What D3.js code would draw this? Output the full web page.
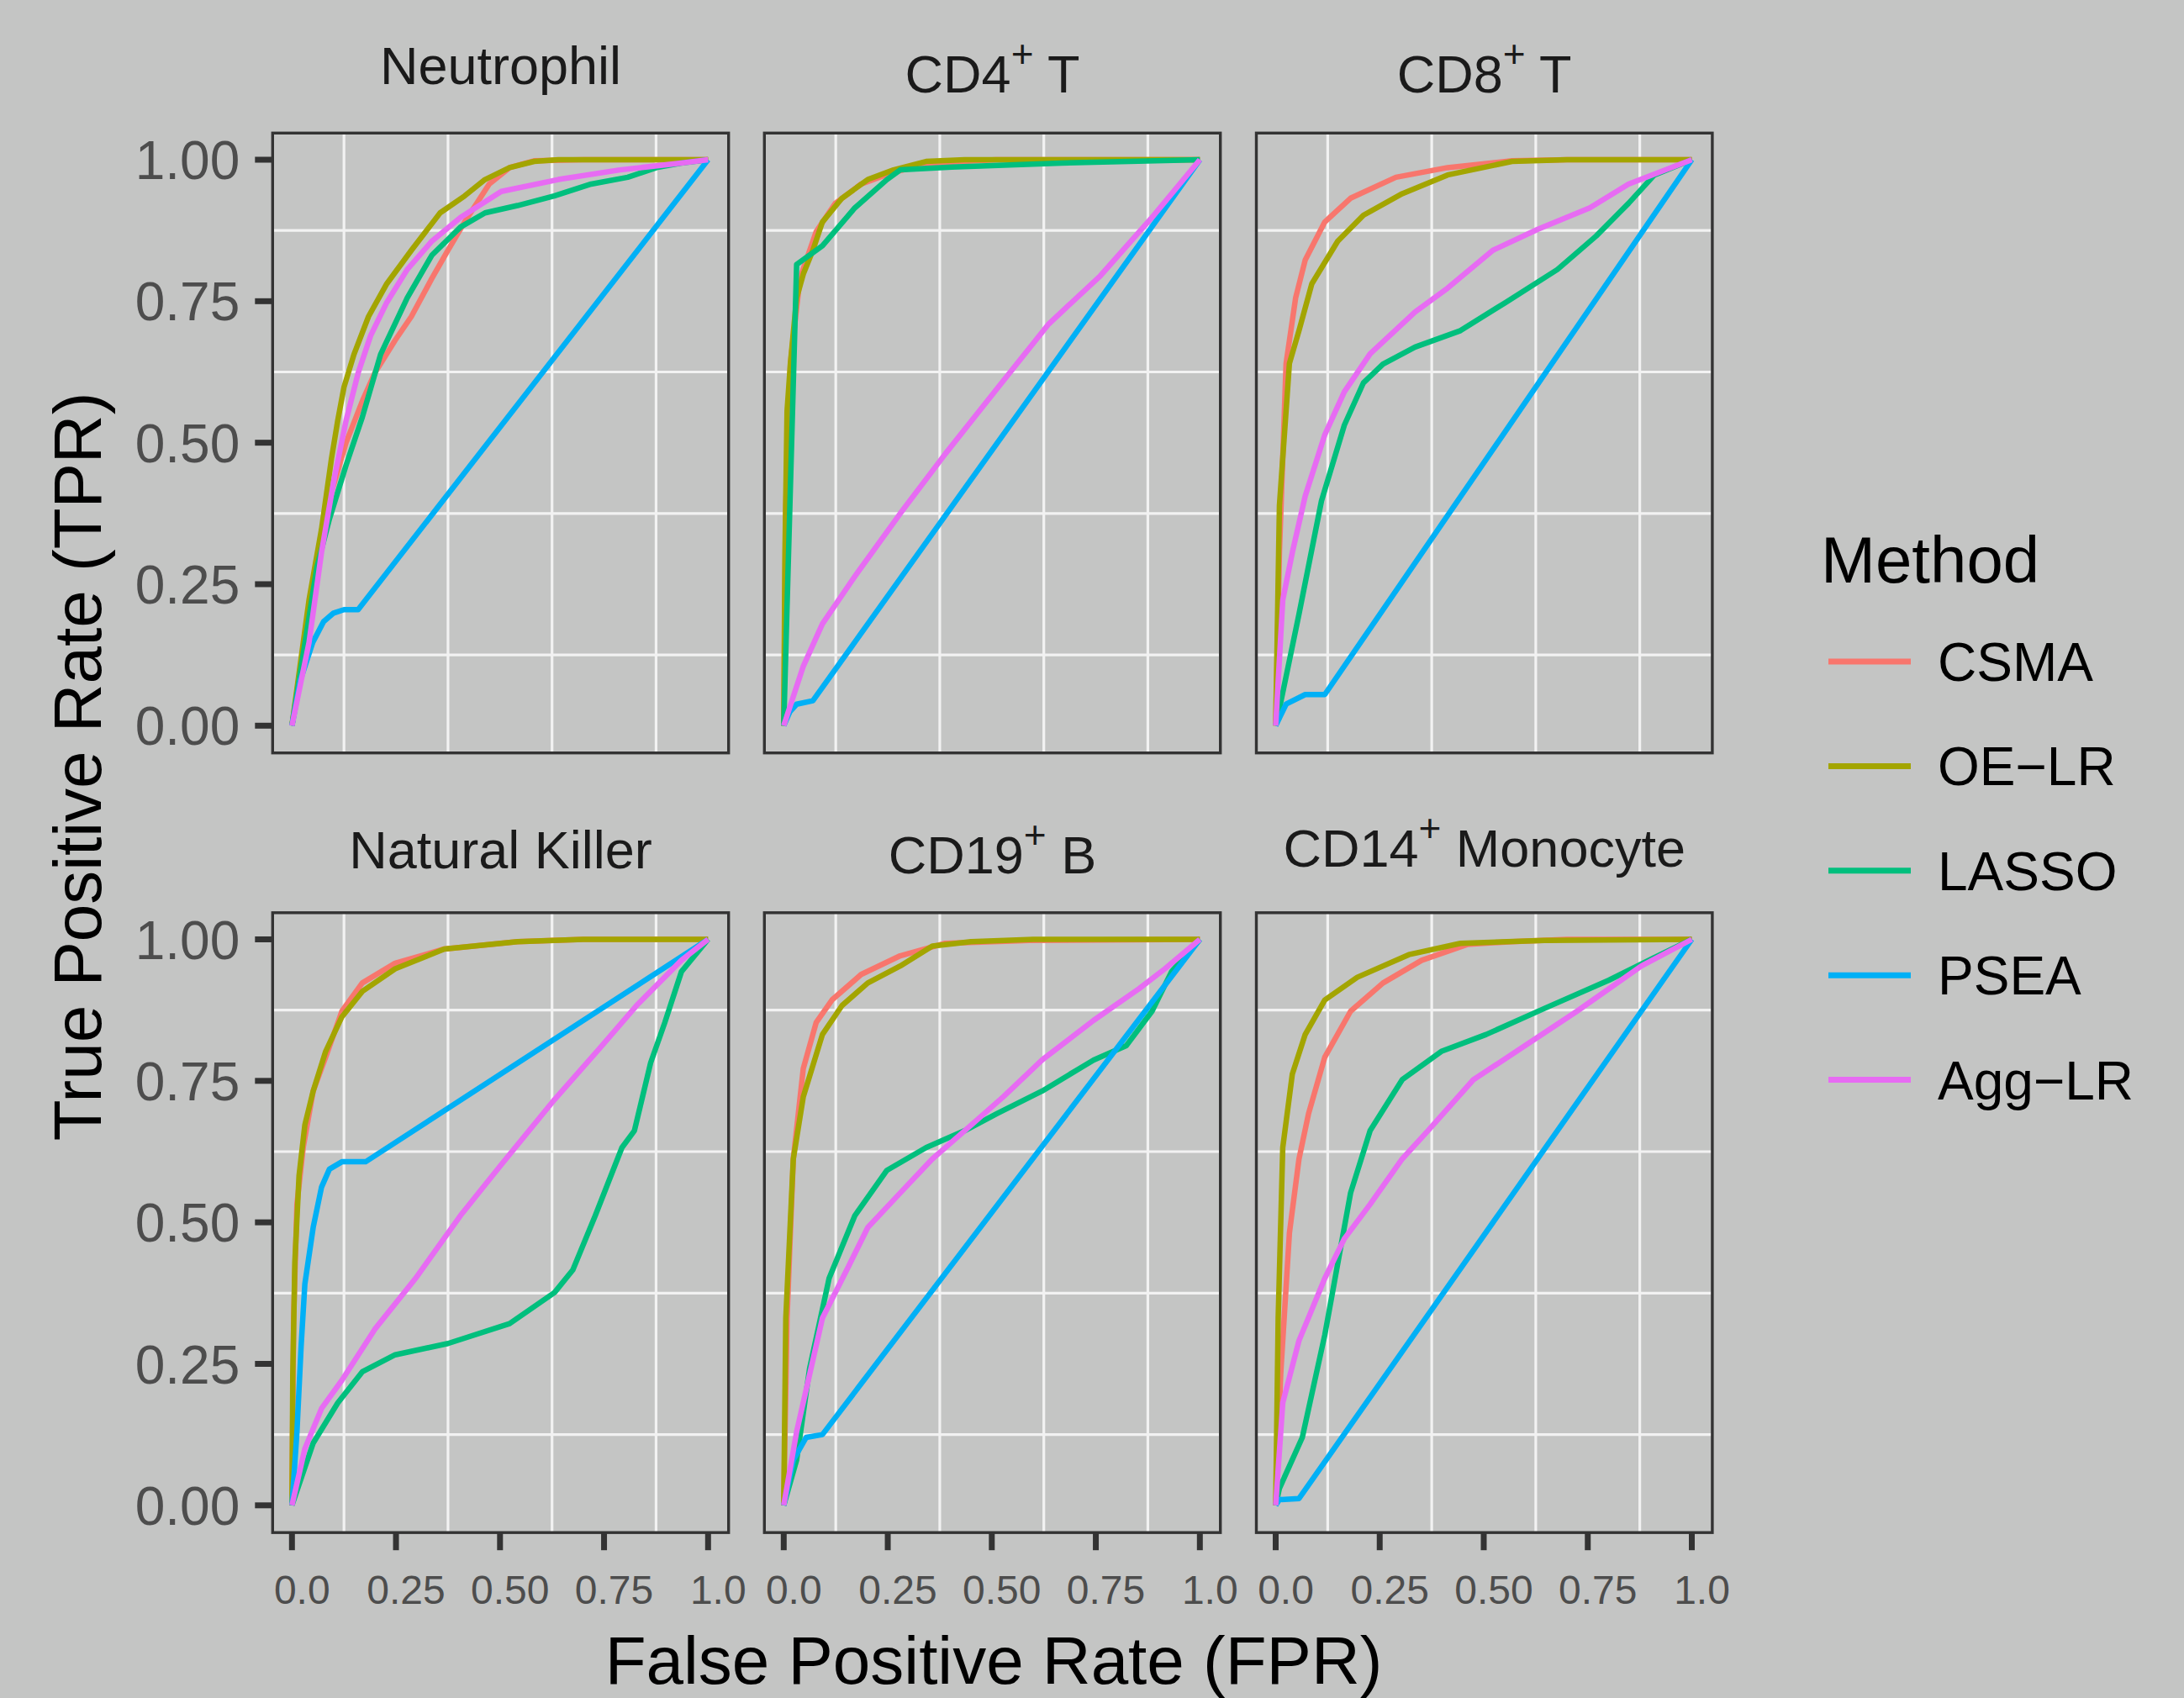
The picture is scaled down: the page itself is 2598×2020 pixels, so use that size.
<!DOCTYPE html>
<html><head><meta charset="utf-8">
<script src="https://cdn.jsdelivr.net/npm/d3@7"></script>
<style>html,body{margin:0;padding:0;background:#c4c5c4;} svg{display:block;}</style>
</head><body>
<svg id="chart" width="2598" height="2020"></svg>
<script>
// ---------------- data ----------------
const methods = ["CSMA", "OE\u2212LR", "LASSO", "PSEA", "Agg\u2212LR"];
const methodKeys = ["CSMA", "OELR", "LASSO", "PSEA", "AggLR"];
const methodColors = ["#F8766D", "#A3A500", "#00BF7D", "#00B0F6", "#E76BF3"];

const panelTitles = [
  {main: "Neutrophil", sup: null, rest: ""},
  {main: "CD4", sup: "+", rest: " T"},
  {main: "CD8", sup: "+", rest: " T"},
  {main: "Natural Killer", sup: null, rest: ""},
  {main: "CD19", sup: "+", rest: " B"},
  {main: "CD14", sup: "+", rest: " Monocyte"}
];

const yTicks = [0, 0.25, 0.5, 0.75, 1];
const yTickLabels = ["0.00", "0.25", "0.50", "0.75", "1.00"];
const xTicks = [0, 0.25, 0.5, 0.75, 1];
const xTickLabels = ["0.0", "0.25", "0.50", "0.75", "1.0"];
const gridBreaks = [0.125, 0.375, 0.625, 0.875];

const xTitle = "False Positive Rate (FPR)";
const yTitle = "True Positive Rate (TPR)";
const legendTitle = "Method";

// ROC points [FPR, TPR]
const neutrophil = {
  CSMA: [[0,0],[0.03,0.15],[0.06,0.29],[0.09,0.40],[0.13,0.50],[0.17,0.575],[0.199,0.623],[0.248,0.681],[0.287,0.723],[0.336,0.79],[0.375,0.84],[0.415,0.89],[0.474,0.957],[0.523,0.986],[0.582,0.998],[0.7,1],[1,1]],
  OELR: [[0,0],[0.041,0.222],[0.071,0.347],[0.095,0.472],[0.11,0.539],[0.125,0.598],[0.149,0.656],[0.184,0.723],[0.228,0.781],[0.287,0.84],[0.356,0.906],[0.415,0.936],[0.464,0.965],[0.523,0.986],[0.582,0.997],[0.64,1],[1,1]],
  LASSO: [[0,0],[0.03,0.14],[0.06,0.28],[0.09,0.365],[0.13,0.46],[0.169,0.545],[0.213,0.656],[0.277,0.756],[0.336,0.831],[0.405,0.881],[0.464,0.906],[0.542,0.919],[0.63,0.936],[0.719,0.957],[0.807,0.969],[0.876,0.986],[0.935,0.994],[1,1]],
  PSEA: [[0,0],[0.02,0.08],[0.05,0.147],[0.076,0.184],[0.10,0.199],[0.125,0.205],[0.159,0.205],[1,1]],
  AggLR: [[0,0],[0.041,0.147],[0.071,0.306],[0.10,0.431],[0.13,0.539],[0.159,0.623],[0.189,0.689],[0.228,0.748],[0.277,0.806],[0.336,0.856],[0.405,0.898],[0.503,0.944],[0.64,0.965],[0.788,0.982],[0.935,0.994],[1,1]]
};
const cd4T = {
  CSMA: [[0,0],[0.005,0.389],[0.016,0.64],[0.039,0.79],[0.078,0.873],[0.124,0.923],[0.186,0.957],[0.264,0.978],[0.357,0.994],[0.51,1],[1,1]],
  OELR: [[0,0],[0.003,0.306],[0.008,0.556],[0.016,0.64],[0.031,0.756],[0.047,0.798],[0.07,0.84],[0.093,0.89],[0.14,0.932],[0.202,0.965],[0.264,0.982],[0.342,0.997],[0.435,1],[1,1]],
  LASSO: [[0,0],[0.031,0.815],[0.093,0.848],[0.171,0.915],[0.248,0.965],[0.28,0.982],[0.404,0.987],[0.668,0.994],[1,1]],
  PSEA: [[0,0],[0.015,0.025],[0.031,0.038],[0.07,0.044],[1,1]],
  AggLR: [[0,0],[0.047,0.105],[0.093,0.18],[0.171,0.264],[0.28,0.375],[0.388,0.48],[0.512,0.595],[0.637,0.71],[0.761,0.795],[0.885,0.898],[1,1]]
};
const cd8T = {
  CSMA: [[0,0],[0.009,0.306],[0.025,0.64],[0.048,0.756],[0.071,0.823],[0.118,0.89],[0.18,0.932],[0.289,0.969],[0.413,0.986],[0.568,0.998],[0.7,1],[1,1]],
  OELR: [[0,0],[0.009,0.389],[0.033,0.64],[0.056,0.698],[0.087,0.781],[0.149,0.856],[0.211,0.902],[0.304,0.94],[0.413,0.973],[0.568,0.997],[0.7,1],[1,1]],
  LASSO: [[0,0],[0.009,0.03],[0.056,0.197],[0.11,0.397],[0.165,0.531],[0.211,0.606],[0.258,0.639],[0.335,0.669],[0.444,0.698],[0.553,0.748],[0.677,0.806],[0.77,0.865],[0.848,0.923],[0.91,0.973],[1,1]],
  PSEA: [[0,0],[0.025,0.038],[0.071,0.055],[0.118,0.055],[1,1]],
  AggLR: [[0,0],[0.017,0.222],[0.04,0.306],[0.071,0.406],[0.118,0.514],[0.165,0.59],[0.227,0.657],[0.335,0.731],[0.413,0.773],[0.522,0.84],[0.63,0.877],[0.755,0.915],[0.848,0.957],[1,1]]
};
const naturalKiller = {
  CSMA: [[0,0],[0.004,0.331],[0.012,0.532],[0.027,0.632],[0.051,0.732],[0.081,0.792],[0.12,0.873],[0.169,0.923],[0.248,0.958],[0.366,0.983],[0.542,0.996],[0.7,1],[1,1]],
  OELR: [[0,0],[0.002,0.231],[0.007,0.431],[0.017,0.582],[0.031,0.672],[0.051,0.732],[0.081,0.802],[0.12,0.863],[0.169,0.908],[0.248,0.948],[0.366,0.983],[0.542,0.996],[0.7,1],[1,1]],
  LASSO: [[0,0],[0.051,0.11],[0.11,0.181],[0.169,0.236],[0.248,0.266],[0.375,0.286],[0.523,0.321],[0.631,0.376],[0.675,0.416],[0.729,0.512],[0.793,0.632],[0.823,0.662],[0.862,0.782],[0.896,0.853],[0.936,0.943],[1,1]],
  PSEA: [[0,0],[0.012,0.13],[0.022,0.281],[0.031,0.391],[0.051,0.491],[0.071,0.562],[0.09,0.594],[0.12,0.607],[0.177,0.607],[1,1]],
  AggLR: [[0,0],[0.031,0.1],[0.071,0.171],[0.12,0.221],[0.199,0.311],[0.297,0.401],[0.405,0.512],[0.503,0.602],[0.631,0.717],[0.739,0.807],[0.828,0.883],[0.936,0.963],[1,1]]
};
const cd19B = {
  CSMA: [[0,0],[0.008,0.331],[0.023,0.612],[0.047,0.772],[0.078,0.853],[0.116,0.893],[0.186,0.938],[0.28,0.971],[0.388,0.993],[0.59,0.998],[1,1]],
  OELR: [[0,0],[0.005,0.331],[0.023,0.612],[0.047,0.722],[0.093,0.832],[0.14,0.883],[0.202,0.923],[0.28,0.953],[0.357,0.988],[0.45,0.996],[0.6,1],[1,1]],
  LASSO: [[0,0],[0.031,0.08],[0.062,0.241],[0.109,0.401],[0.171,0.512],[0.248,0.592],[0.342,0.632],[0.435,0.662],[0.512,0.692],[0.621,0.732],[0.745,0.787],[0.823,0.812],[0.885,0.873],[0.932,0.943],[1,1]],
  PSEA: [[0,0],[0.023,0.08],[0.054,0.12],[0.093,0.125],[1,1]],
  AggLR: [[0,0],[0.031,0.13],[0.093,0.331],[0.155,0.421],[0.202,0.491],[0.28,0.552],[0.357,0.612],[0.435,0.662],[0.528,0.722],[0.621,0.787],[0.745,0.857],[0.854,0.913],[0.916,0.948],[1,1]]
};
const cd14Monocyte = {
  CSMA: [[0,0],[0.012,0.231],[0.033,0.481],[0.056,0.612],[0.079,0.692],[0.118,0.792],[0.18,0.873],[0.258,0.923],[0.351,0.963],[0.46,0.991],[0.568,0.996],[0.7,1],[1,1]],
  OELR: [[0,0],[0.006,0.331],[0.017,0.632],[0.04,0.762],[0.071,0.832],[0.118,0.893],[0.196,0.933],[0.32,0.973],[0.444,0.993],[0.646,0.998],[1,1]],
  LASSO: [[0,0],[0.009,0.03],[0.064,0.12],[0.118,0.301],[0.18,0.552],[0.227,0.662],[0.304,0.752],[0.398,0.802],[0.506,0.832],[0.646,0.878],[0.801,0.928],[0.91,0.968],[1,1]],
  PSEA: [[0,0],[0.009,0.01],[0.056,0.012],[1,1]],
  AggLR: [[0,0],[0.017,0.181],[0.056,0.291],[0.118,0.401],[0.165,0.471],[0.227,0.532],[0.304,0.612],[0.366,0.662],[0.475,0.752],[0.599,0.812],[0.724,0.873],[0.879,0.953],[1,1]]
};
const panelData = [neutrophil, cd4T, cd8T, naturalKiller, cd19B, cd14Monocyte];

// ---------------- layout ----------------
const FONT = "'Liberation Sans', Arial, Helvetica, sans-serif";
const colLeft = [324.3, 909.3, 1494.5];
const rowTop = [158.3, 1085.8];
const panelW = 542.4, panelH = 737.4;
const stripBaseline = [[100, 110, 110], [1033, 1039, 1031]];

const svg = d3.select("#chart");
svg.append("rect").attr("width", 2598).attr("height", 2020).attr("fill", "#c4c5c4");

panelData.forEach((pd, i) => {
  const row = Math.floor(i / 3), col = i % 3;
  const left = colLeft[col], top = rowTop[row];
  const x = d3.scaleLinear().domain([0, 1]).range([left + 23, left + 518]);
  const y = d3.scaleLinear().domain([0, 1]).range([top + 705, top + 31.7]);
  const g = svg.append("g");

  // minor grid (white)
  g.selectAll(".gx").data(gridBreaks).join("line")
    .attr("x1", d => x(d)).attr("x2", d => x(d))
    .attr("y1", top).attr("y2", top + panelH)
    .attr("stroke", "#f2f2f2").attr("stroke-width", 3.2);
  g.selectAll(".gy").data(gridBreaks).join("line")
    .attr("y1", d => y(d)).attr("y2", d => y(d))
    .attr("x1", left).attr("x2", left + panelW)
    .attr("stroke", "#f2f2f2").attr("stroke-width", 3.2);

  // curves
  const line = d3.line().x(d => x(d[0])).y(d => y(d[1]));
  methodKeys.forEach((k, m) => {
    g.append("path").datum(pd[k]).attr("d", line)
      .attr("fill", "none").attr("stroke", methodColors[m])
      .attr("stroke-width", 6.5).attr("stroke-linejoin", "round").attr("stroke-linecap", "butt");
  });

  // border
  g.append("rect").attr("x", left).attr("y", top).attr("width", panelW).attr("height", panelH)
    .attr("fill", "none").attr("stroke", "#333333").attr("stroke-width", 3.4);

  // strip title
  const t = panelTitles[i];
  const txt = g.append("text").attr("x", left + panelW / 2).attr("y", stripBaseline[row][col])
    .attr("text-anchor", "middle").attr("font-family", FONT).attr("font-size", 63).attr("fill", "#1a1a1a");
  txt.append("tspan").text(t.main);
  if (t.sup) {
    txt.append("tspan").text(t.sup).attr("font-size", 46).attr("dy", -30);
    txt.append("tspan").text(t.rest).attr("dy", 30);
  }

  // y axis on left column
  if (col === 0) {
    g.selectAll(".yt").data(yTicks).join("line")
      .attr("x1", left - 21).attr("x2", left).attr("y1", d => y(d)).attr("y2", d => y(d))
      .attr("stroke", "#333333").attr("stroke-width", 7);
    g.selectAll(".yl").data(yTicks).join("text")
      .attr("x", left - 39).attr("y", d => y(d)).attr("dy", "0.36em")
      .attr("text-anchor", "end").attr("font-family", FONT).attr("font-size", 64).attr("fill", "#4d4d4d")
      .text((d, j) => yTickLabels[j]);
  }
  // x axis on bottom row
  if (row === 1) {
    const b = top + panelH;
    g.selectAll(".xt").data(xTicks).join("line")
      .attr("x1", d => x(d)).attr("x2", d => x(d)).attr("y1", b).attr("y2", b + 21)
      .attr("stroke", "#333333").attr("stroke-width", 7);
    g.selectAll(".xl").data(xTicks).join("text")
      .attr("x", d => x(d) + 12).attr("y", 1908)
      .attr("text-anchor", "middle").attr("font-family", FONT).attr("font-size", 48).attr("fill", "#4d4d4d")
      .text((d, j) => xTickLabels[j]);
  }
});

// axis titles
svg.append("text").attr("x", 1182).attr("y", 2003).attr("text-anchor", "middle")
  .attr("font-family", FONT).attr("font-size", 80).attr("fill", "#000").text(xTitle);
svg.append("text").attr("transform", "translate(120,912) rotate(-90)").attr("text-anchor", "middle")
  .attr("font-family", FONT).attr("font-size", 80).attr("fill", "#000").text(yTitle);

// legend
svg.append("text").attr("x", 2166).attr("y", 693).attr("font-family", FONT).attr("font-size", 78)
  .attr("fill", "#000").text(legendTitle);
const lg = svg.append("g");
methods.forEach((m, i) => {
  const cy = 787 + i * 124.4;
  lg.append("line").attr("x1", 2175).attr("x2", 2273).attr("y1", cy).attr("y2", cy)
    .attr("stroke", methodColors[i]).attr("stroke-width", 7);
  lg.append("text").attr("x", 2305).attr("y", cy + 23).attr("font-family", FONT).attr("font-size", 64)
    .attr("fill", "#000").text(m);
});
</script>
</body></html>
